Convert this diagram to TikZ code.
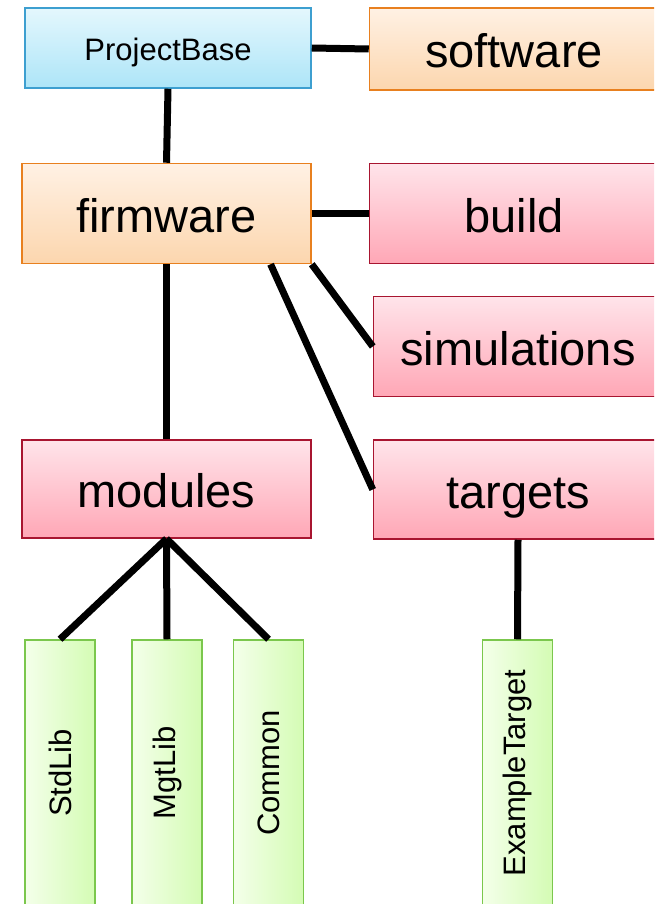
\documentclass[tikz,border=0pt]{standalone}
\usepackage{fontspec}
\setmainfont{Liberation Sans}
\usepackage{xcolor}
\usepackage{tikz}

\definecolor{bltop}{HTML}{E4F7FD}
\definecolor{blbot}{HTML}{ADE5F8}
\definecolor{blline}{HTML}{3D9FD0}
\definecolor{ortop}{HTML}{FFF1E4}
\definecolor{orbot}{HTML}{FCD6AE}
\definecolor{orline}{HTML}{E8801F}
\definecolor{pktop}{HTML}{FFE4EA}
\definecolor{pkbot}{HTML}{FFA7B6}
\definecolor{pkline}{HTML}{A81530}
\definecolor{grleft}{HTML}{F4FFEA}
\definecolor{grright}{HTML}{D4FCB4}
\definecolor{grline}{HTML}{7BC74D}

\begin{document}
\begin{tikzpicture}[
  x=1pt, y=-1pt,
  dir/.style={draw=#1line, line width=1.5pt, top color=#1top, bottom color=#1bot,
              minimum width=289pt, minimum height=100pt, inner sep=0pt,
              text height=40pt, text depth=3pt,
              font=\fontsize{47}{52}\selectfont},
  leaf/.style={draw=grline, line width=1.5pt, left color=grleft, right color=grright,
               minimum width=70pt, minimum height=266pt, inner sep=0pt,
               font=\fontsize{31}{36}\selectfont},
  link/.style={line width=7pt}
]
  \useasboundingbox (0,0) rectangle (654,904);
  \clip (0,0) rectangle (654,904);

  % Boxes
  \node[dir=bl, minimum width=286pt, minimum height=80pt, text height=28pt, text depth=2pt,
        font=\fontsize{31}{36}\selectfont] (base) at (168,48) {ProjectBase};
  \node[dir=or, minimum height=82pt] (software) at (514,49) {software};
  \node[dir=or] (firmware) at (166.5,213.5) {firmware};
  \node[dir=pk] (build) at (514,213.5) {build};
  \node[dir=pk] (simulations) at (518,346.5) {simulations};
  \node[dir=pk, minimum height=99pt] (targets) at (518,489.5) {targets};
  \node[dir=pk, minimum height=98pt] (modules) at (166.5,489) {modules};

  \node[leaf] (stdlib) at (60,773) {\rotatebox{90}{StdLib}};
  \node[leaf] (mgtlib) at (167,773) {\rotatebox{90}{MgtLib}};
  \node[leaf] (common) at (268.5,773) {\rotatebox{90}{Common}};
  \node[leaf] (example) at (517.5,773) {\rotatebox{90}{ExampleTarget}};

  % Lines
  \draw[link] (base.east) -- (software.west);
  \draw[link] (base.south) -- (firmware.north);
  \draw[link] (firmware.east) -- (build.west);
  \draw[link] (firmware.south east) -- (simulations.west);
  \draw[link] (firmware.-26) -- (targets.west);
  \draw[link] (firmware.south) -- (modules.north);
  \draw[link] (modules.south) -- (stdlib.north);
  \draw[link] (modules.south) -- (mgtlib.north);
  \draw[link] (modules.south) -- (common.north);
  \draw[link] (targets.south) -- (example.north);
\end{tikzpicture}
\end{document}
